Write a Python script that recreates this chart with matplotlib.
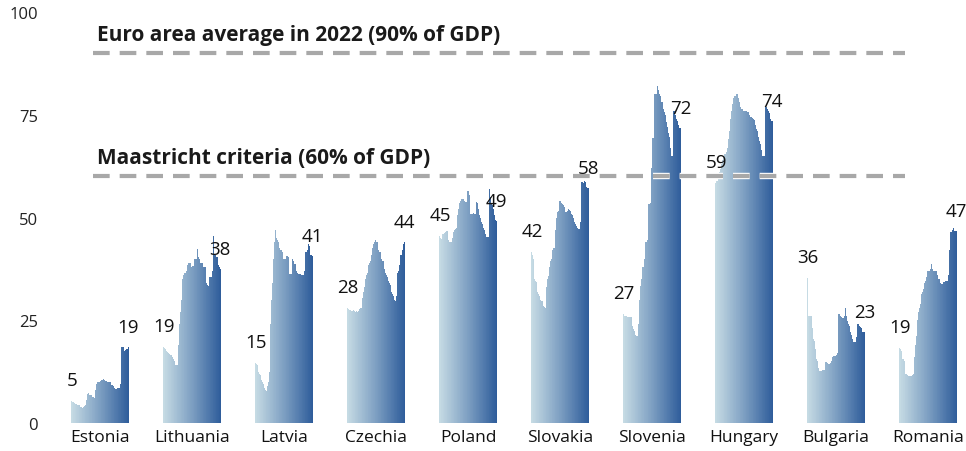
import matplotlib
matplotlib.use("Agg")
import matplotlib.pyplot as plt
import matplotlib.patheffects as pe
from matplotlib.colors import LinearSegmentedColormap
import numpy as np

plt.rcParams['font.family'] = ['Open Sans', 'DejaVu Sans']

countries = ['Estonia', 'Lithuania', 'Latvia', 'Czechia', 'Poland',
             'Slovakia', 'Slovenia', 'Hungary', 'Bulgaria', 'Romania']

# general government debt, % of GDP, quarterly 2004Q1 - 2022Q4
estonia = [5.4, 5.2, 5.0, 5.1, 4.8, 4.7, 4.6, 4.6, 4.5, 4.4, 4.3, 4.4, 4.0, 3.8, 3.7, 3.7,
           3.9, 4.2, 4.4, 4.5, 5.5, 7.0, 7.2, 7.1, 6.9, 6.8, 6.7, 6.6, 6.4, 6.3, 6.2, 6.1,
           8.0, 9.5, 9.9, 9.8, 9.9, 10.0, 10.3, 10.2, 10.4, 10.5, 10.6, 10.5, 10.4, 10.3, 10.2, 10.1,
           10.0, 10.0, 10.1, 10.0, 9.5, 9.3, 9.2, 9.1, 8.6, 8.4, 8.3, 8.2, 8.4, 8.5, 8.6, 8.6,
           9.5, 18.0, 18.4, 18.6, 18.4, 17.5, 17.6, 17.8, 18.0, 17.8, 18.0, 18.5]
lithuania = [18.5, 18.3, 18.2, 18.0, 17.5, 17.3, 17.2, 17.0, 16.8, 16.6, 16.5, 16.5, 16.0, 15.5, 15.2, 15.0,
             14.2, 14.0, 14.0, 14.0, 19.0, 24.0, 27.0, 27.5, 30.0, 35.0, 36.0, 36.0, 36.5, 36.5, 37.0, 37.0,
             38.5, 39.0, 39.0, 39.0, 38.0, 38.0, 38.2, 38.3, 39.5, 40.0, 40.0, 40.0, 40.5, 42.3, 40.5, 40.0,
             39.2, 39.0, 39.0, 39.0, 38.5, 38.0, 38.0, 38.0, 34.0, 33.5, 33.5, 33.4, 35.5, 35.5, 35.5, 35.5,
             37.0, 41.0, 45.5, 41.0, 41.0, 40.5, 40.5, 40.4, 38.5, 38.0, 37.5, 37.5]
latvia = [14.5, 14.3, 14.1, 14.1, 12.5, 12.0, 11.8, 11.7, 10.5, 10.0, 9.7, 9.6, 8.5, 8.0, 7.8, 7.8,
          9.0, 10.0, 12.5, 18.0, 24.0, 30.0, 34.0, 36.3, 40.0, 44.0, 47.0, 46.5, 45.0, 44.5, 44.0, 43.0,
          42.5, 42.0, 42.0, 41.5, 40.0, 40.0, 40.0, 40.0, 40.5, 40.7, 40.7, 40.5, 36.5, 36.3, 36.3, 36.3,
          40.0, 40.0, 39.5, 38.8, 38.7, 38.5, 37.0, 36.5, 36.3, 36.3, 36.2, 36.2, 36.0, 36.0, 36.0, 36.0,
          37.0, 41.0, 41.5, 41.6, 42.0, 43.5, 43.5, 43.0, 41.0, 40.8, 40.6, 40.6]
czechia = [28.0, 27.8, 27.5, 27.5, 27.5, 27.3, 27.0, 27.2, 27.5, 27.2, 27.0, 27.0, 27.2, 27.0, 27.0, 27.2,
           27.7, 28.0, 28.0, 28.0, 30.5, 32.0, 33.0, 33.3, 35.0, 36.0, 36.5, 37.0, 38.5, 39.0, 39.5, 39.5,
           41.0, 42.5, 43.5, 44.0, 44.5, 44.5, 44.0, 44.0, 43.5, 42.0, 41.5, 41.5, 41.0, 40.0, 39.5, 39.5,
           38.5, 37.5, 36.5, 36.0, 35.5, 35.0, 34.5, 34.0, 33.5, 32.5, 32.0, 31.5, 31.0, 30.5, 30.0, 29.8,
           31.0, 35.0, 36.5, 37.0, 38.5, 40.0, 41.0, 41.0, 42.0, 43.5, 43.5, 44.0]
poland = [45.5, 45.0, 44.8, 44.8, 46.0, 46.0, 46.2, 46.3, 46.5, 46.8, 46.8, 46.5, 44.5, 44.0, 44.0, 44.0,
          44.0, 45.0, 46.4, 46.4, 47.0, 47.2, 47.5, 48.5, 50.5, 52.0, 53.5, 53.7, 54.0, 54.5, 54.5, 54.5,
          54.5, 54.0, 53.8, 53.8, 54.5, 56.5, 56.5, 55.5, 51.0, 50.9, 50.9, 50.9, 51.0, 51.0, 50.9, 50.9,
          51.5, 53.7, 53.5, 52.0, 50.5, 50.4, 50.0, 49.0, 48.5, 48.0, 47.5, 47.0, 46.0, 45.5, 45.2, 45.2,
          45.2, 50.0, 56.9, 55.0, 53.5, 53.0, 52.9, 52.0, 50.5, 49.5, 49.2, 49.2]
slovakia = [41.5, 41.0, 40.5, 40.0, 35.0, 34.5, 34.2, 34.2, 32.0, 31.5, 31.0, 31.0, 30.0, 29.8, 29.8, 29.8,
            28.5, 28.2, 28.1, 28.1, 33.0, 35.0, 35.8, 36.0, 38.0, 39.5, 40.0, 40.5, 42.0, 42.5, 42.7, 43.0,
            47.0, 50.0, 51.3, 51.5, 53.0, 54.1, 54.0, 53.5, 53.3, 53.3, 53.0, 52.5, 51.5, 51.3, 51.3, 51.5,
            52.0, 52.0, 51.8, 51.5, 50.9, 50.9, 50.5, 50.0, 49.0, 48.8, 48.5, 48.0, 47.5, 47.2, 47.2, 47.2,
            49.0, 56.0, 58.6, 58.6, 58.5, 58.6, 58.9, 58.7, 57.5, 57.3, 57.3, 57.3]
slovenia = [26.5, 26.1, 26.0, 26.0, 26.0, 25.9, 25.9, 25.9, 25.9, 25.8, 25.8, 25.8, 23.5, 22.8, 22.5, 22.5,
            21.5, 21.2, 21.2, 21.2, 24.0, 30.0, 33.4, 33.4, 35.0, 37.9, 37.9, 38.0, 40.0, 44.0, 44.0, 44.5,
            48.0, 53.3, 53.3, 53.5, 58.0, 62.0, 69.3, 69.3, 75.0, 80.0, 80.0, 80.0, 81.0, 82.1, 81.0, 80.0,
            79.5, 78.0, 78.0, 78.0, 76.5, 75.6, 75.6, 75.0, 73.2, 73.2, 72.0, 70.5, 69.5, 69.5, 67.0, 65.0,
            64.9, 64.9, 76.0, 76.0, 75.0, 74.0, 74.0, 73.5, 72.5, 71.9, 71.9, 71.9]
hungary = [58.5, 58.8, 59.0, 59.0, 60.0, 61.0, 61.5, 61.8, 63.0, 64.0, 65.0, 65.0, 65.5, 65.5, 66.0, 66.0,
           67.0, 69.0, 71.0, 71.1, 74.0, 76.0, 77.6, 77.6, 79.0, 79.6, 79.6, 80.0, 80.0, 80.0, 79.0, 78.0,
           77.5, 77.0, 76.5, 76.4, 76.5, 76.0, 76.0, 76.0, 76.0, 75.8, 75.6, 75.6, 75.0, 74.8, 74.5, 74.4,
           74.2, 74.0, 74.0, 73.8, 72.5, 71.5, 71.5, 71.0, 69.5, 68.7, 68.5, 68.0, 66.5, 65.5, 64.9, 64.9,
           64.9, 70.0, 76.8, 76.8, 76.5, 76.0, 76.0, 75.5, 74.0, 73.5, 73.5, 73.5]
bulgaria = [35.2, 26.1, 26.1, 26.1, 26.1, 26.1, 23.0, 20.4, 20.4, 20.0, 18.0, 15.6, 15.6, 15.0, 13.5, 12.7,
            12.7, 12.7, 12.7, 12.7, 12.9, 12.9, 12.9, 13.5, 14.8, 14.8, 14.6, 14.4, 14.4, 14.4, 14.5, 15.0,
            16.0, 16.0, 16.2, 16.4, 16.4, 16.4, 16.5, 17.0, 20.0, 26.5, 26.5, 26.0, 25.7, 25.7, 25.5, 25.5,
            26.0, 28.5, 28.0, 26.0, 24.9, 24.9, 24.0, 23.5, 22.1, 22.1, 21.5, 20.5, 19.6, 19.6, 19.6, 19.6,
            21.0, 24.1, 24.1, 24.0, 23.5, 23.3, 23.3, 23.0, 22.2, 22.2, 22.2, 22.2]
romania = [18.2, 18.0, 17.5, 17.0, 15.6, 15.6, 15.0, 14.0, 11.9, 11.9, 11.7, 11.5, 11.5, 11.5, 11.5, 11.5,
           11.5, 11.8, 11.9, 12.5, 16.0, 19.0, 21.2, 22.5, 25.0, 27.0, 28.1, 29.0, 30.5, 31.5, 31.8, 32.5,
           33.5, 34.0, 34.6, 35.5, 36.5, 37.0, 37.0, 37.0, 37.0, 37.5, 38.7, 37.5, 37.0, 37.0, 37.0, 37.0,
           37.0, 36.5, 36.0, 35.0, 35.0, 34.5, 34.0, 33.8, 33.8, 34.0, 34.2, 34.2, 34.5, 34.6, 34.6, 34.6,
           36.0, 42.0, 46.4, 46.4, 46.5, 47.0, 48.2, 47.5, 46.7, 46.7, 46.7, 46.7]

series = [estonia, lithuania, latvia, czechia, poland, slovakia, slovenia, hungary, bulgaria, romania]
start_labels = [5, 19, 15, 28, 45, 42, 27, 59, 36, 19]
end_labels = [19, 38, 41, 44, 49, 58, 72, 74, 23, 47]

euro_avg = 90
maastricht = 60

fig = plt.figure(figsize=(9.66, 4.52), dpi=100)
ax = fig.add_axes([0.0621, 0.0619, 0.9379, 0.9093])

cmap = LinearSegmentedColormap.from_list('debt', ['#c6dbe4', '#7d9fc2', '#2f5d9b'])
step = 120.6
centers = []
for i, vals in enumerate(series):
    n = len(vals)
    x0 = i * step
    xs = x0 + np.arange(n)
    cols = cmap(np.linspace(0, 1, n))
    ax.bar(xs, vals, width=1.08, align='edge', color=cols, linewidth=0, zorder=2)
    centers.append(x0 + n / 2)
    ax.annotate(str(start_labels[i]), (xs[0] + 1.5, vals[0]), xytext=(0, 21),
                textcoords='offset pixels', ha='center', va='center',
                fontsize=13.5, fontweight='medium', color='#111111', zorder=4)
    ax.annotate(str(end_labels[i]), (xs[-1], vals[-1]), xytext=(0, 20),
                textcoords='offset pixels', ha='center', va='center',
                fontsize=13.5, fontweight='medium', color='#111111', zorder=4)

# reference lines
x_start = 29
x_end = 9 * step + 76 - 68
for level, txt in [(euro_avg, 'Euro area average in 2022 (90% of GDP)'),
                   (maastricht, 'Maastricht criteria (60% of GDP)')]:
    ax.hlines(level, x_start, x_end, colors='#a8a8a8', linewidth=3,
              linestyles=(0, (4.0, 2.4)), zorder=3,
              path_effects=[pe.Stroke(linewidth=4.6, foreground='white'), pe.Normal()])
    ax.annotate(txt, (x_start + 5, level), xytext=(0, 19), textcoords='offset pixels',
                ha='left', va='center', fontsize=15, fontweight='bold',
                color='#1a1a1a', zorder=4)

ax.set_xlim(-14.4, 1173)
ax.set_ylim(0, 100)
ax.set_yticks([0, 25, 50, 75, 100])
ax.set_xticks(centers, countries)
ax.tick_params(axis='y', length=0, pad=16, labelsize=12, labelcolor='#222222')
ax.tick_params(axis='x', length=0, pad=4, labelsize=12.5, labelcolor='#111111')
for s in ax.spines.values():
    s.set_visible(False)

fig.savefig('out.png', dpi=100)
